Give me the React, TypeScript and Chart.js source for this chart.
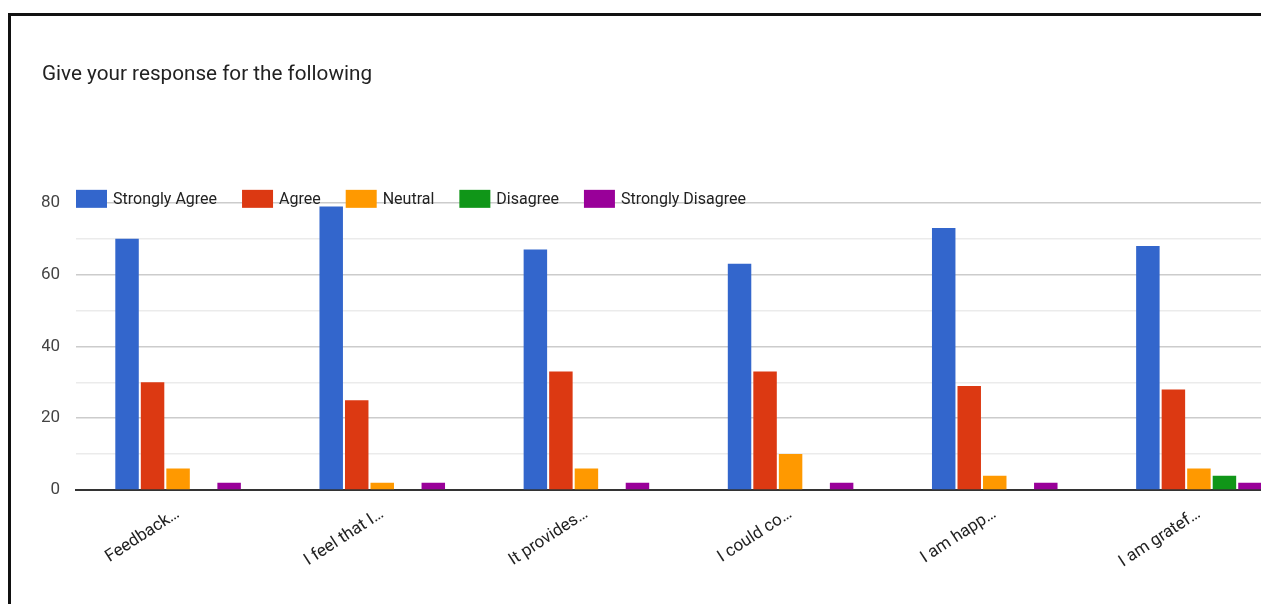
import React, { useEffect, useRef } from "react";
import { Chart, registerables } from "chart.js";

Chart.register(...registerables);

const TITLE = "Give your response for the following";
const categories = ["Feedback…", "I feel that I…", "It provides…", "I could co…", "I am happ…", "I am gratef…"];
const seriesNames = ["Strongly Agree", "Agree", "Neutral", "Disagree", "Strongly Disagree"];
const seriesColors = ["#3366CC", "#DC3912", "#FF9900", "#109618", "#990099"];
const stronglyAgree = [70, 79, 67, 63, 73, 68];
const agree = [30, 25, 33, 33, 29, 28];
const neutral = [6, 2, 6, 10, 4, 6];
const disagree = [0, 0, 0, 0, 0, 4];
const stronglyDisagree = [2, 2, 2, 2, 2, 2];
const seriesValues = [stronglyAgree, agree, neutral, disagree, stronglyDisagree];
const yMin = 0;
const yMax = 80;
const yStep = 10;
const yLabelStep = 20;

const FONT = "Roboto, 'Noto Sans', sans-serif";

const overlayLegend = {
  id: "overlayLegend",
  afterDraw(chart: any) {
    const { ctx, chartArea } = chart;
    const boxW = 31;
    const boxH = 18;
    const yc = chartArea.top - 4;
    let x = chartArea.left;
    ctx.save();
    ctx.font = `16px ${FONT}`;
    ctx.textBaseline = "middle";
    ctx.textAlign = "left";
    chart.data.datasets.forEach((ds: any) => {
      ctx.fillStyle = ds.backgroundColor;
      ctx.fillRect(x, yc - boxH / 2, boxW, boxH);
      x += boxW + 6;
      ctx.fillStyle = "#222";
      ctx.fillText(ds.label, x, yc + 1);
      x += ctx.measureText(ds.label).width + 25;
    });
    ctx.restore();
  },
};

export default function App() {
  const ref = useRef<HTMLCanvasElement>(null);
  useEffect(() => {
    if (!ref.current) return;
    const chart = new Chart(ref.current, {
      type: "bar",
      data: {
        labels: categories,
        datasets: seriesNames.map((name, i) => ({
          label: name,
          data: seriesValues[i],
          backgroundColor: seriesColors[i],
          borderWidth: 0,
          categoryPercentage: 0.625,
          barPercentage: 0.92,
        })),
      },
      options: {
        responsive: false,
        animation: false,
        layout: { padding: { left: 42, right: 19, top: 0, bottom: 0 } },
        plugins: {
          legend: { display: false },
          tooltip: { enabled: false },
          title: {
            display: true,
            text: TITLE,
            align: "start",
            color: "#222",
            font: { family: FONT, size: 20.7, weight: "normal" },
            padding: { top: 62, bottom: 116 },
          },
        },
        scales: {
          x: {
            grid: { display: false, drawTicks: false },
            border: { display: true, color: "#333", width: 2 },
            ticks: {
              minRotation: 33,
              maxRotation: 33,
              padding: 14,
              color: "#222",
              font: { family: FONT, size: 17 },
              autoSkip: false,
            },
            afterFit: (s: any) => {
              s.height = 114;
            },
          },
          y: {
            min: yMin,
            max: yMax,
            border: { display: false },
            grid: {
              drawTicks: false,
              color: (c: any) => (c.tick && c.tick.value % yLabelStep === 0 ? "#cccccc" : "#ebebeb"),
              lineWidth: 1.5,
            },
            ticks: {
              stepSize: yStep,
              padding: 16,
              color: "#444",
              font: { family: FONT, size: 17 },
              callback: (v: any) => (Number(v) % yLabelStep === 0 ? String(v) : ""),
            },
            afterFit: (s: any) => {
              s.width = 34;
            },
          },
        },
      },
      plugins: [overlayLegend],
    });
    return () => chart.destroy();
  }, []);
  return (
    <div style={{ position: "fixed", left: 0, top: 0, width: 1261, height: 604, overflow: "hidden", background: "#fff" }}>
      <canvas ref={ref} width={1320} height={604} style={{ position: "absolute", left: 0, top: 0 }} />
      <div
        style={{
          position: "absolute",
          left: 8,
          top: 13,
          width: 1300,
          height: 620,
          borderTop: "3px solid #111",
          borderLeft: "3px solid #111",
          pointerEvents: "none",
        }}
      />
    </div>
  );
}
